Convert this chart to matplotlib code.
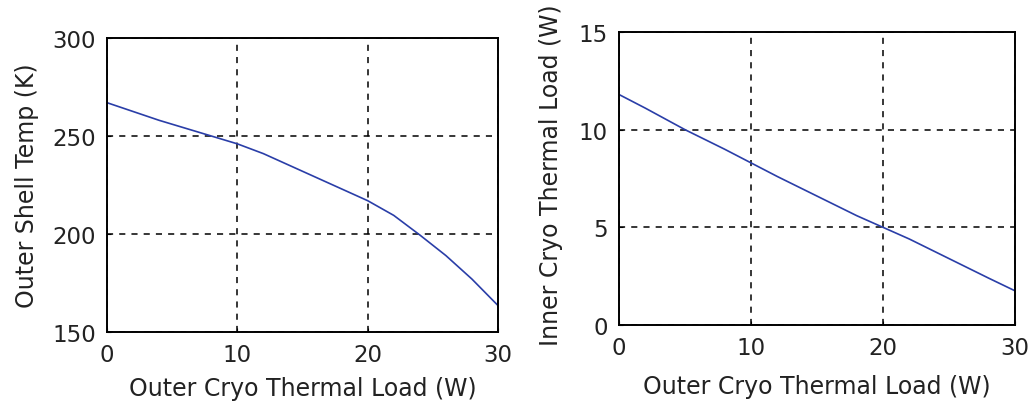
import matplotlib
matplotlib.use('Agg')
import matplotlib.pyplot as plt

# 外层负载 (W)
load_outer = [0, 2, 4, 6, 8, 10, 12, 14, 16, 18, 20, 22, 24, 26, 28, 30]
# 外壳温度 (K)
shell_temp = [267, 262.5, 258, 254, 250, 246, 241, 235, 229, 223, 217, 209.5, 199.5, 189, 177, 163.5]
# 内层负载 (W)
load_x2 = [0, 2, 5, 8, 10, 12, 15, 18, 20, 22, 25, 28, 30]
inner_load = [11.8, 11.1, 10.0, 9.0, 8.3, 7.6, 6.6, 5.6, 5.0, 4.4, 3.4, 2.4, 1.75]

plt.rcParams['font.family'] = ['DejaVu Sans']
fig = plt.figure(figsize=(10.31, 4.10), dpi=100)
blue = '#2a3ea8'
txt = '#222222'

def style(ax):
    ax.grid(True, color='black', linestyle=(0, (4, 4)), linewidth=1.1)
    for s in ax.spines.values():
        s.set_linewidth(1.4)
    ax.tick_params(direction='in', length=3, labelsize=16.5, pad=8, labelcolor=txt)

ax1 = fig.add_axes([107/1031, 1-333/410, 391/1031, 294/410])
ax1.plot(load_outer, shell_temp, color=blue, linewidth=1.2)
ax1.set_xlim(0, 30)
ax1.set_ylim(150, 300)
ax1.set_xticks([0, 10, 20, 30])
ax1.set_yticks([150, 200, 250, 300])
ax1.set_xlabel('Outer Cryo Thermal Load (W)', fontsize=17, color=txt)
ax1.set_ylabel('Outer Shell Temp (K)', fontsize=17, color=txt)
ax1.xaxis.set_label_coords(0.5, -0.15)
ax1.yaxis.set_label_coords(-0.175, 0.5)
style(ax1)

ax2 = fig.add_axes([619/1031, 1-326/410, 396/1031, 293/410])
ax2.plot(load_x2, inner_load, color=blue, linewidth=1.2)
ax2.set_xlim(0, 30)
ax2.set_ylim(0, 15)
ax2.set_xticks([0, 10, 20, 30])
ax2.set_yticks([0, 5, 10, 15])
ax2.set_xlabel('Outer Cryo Thermal Load (W)', fontsize=17, color=txt)
ax2.set_ylabel('Inner Cryo Thermal Load (W)', fontsize=17, color=txt)
ax2.xaxis.set_label_coords(0.5, -0.167)
ax2.yaxis.set_label_coords(-0.141, 0.515)
style(ax2)

fig.savefig('out.png', dpi=100)
